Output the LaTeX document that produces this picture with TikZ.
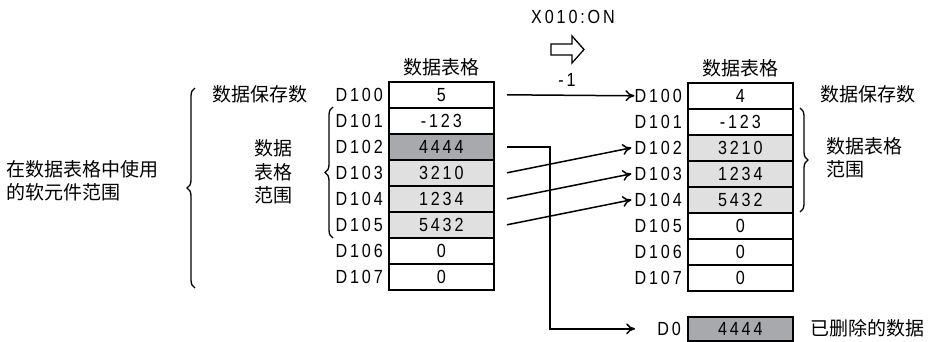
\documentclass[tikz,border=0pt]{standalone}
\usepackage{fontspec}
\setmainfont{Liberation Sans}
\newfontfamily\cjk{Noto Sans CJK SC}
\newfontfamily\numfont[FakeStretch=0.85,LetterSpace=15]{Liberation Sans}
\usetikzlibrary{arrows.meta,positioning,calc,decorations.pathreplacing}
\definecolor{GrayDark}{HTML}{A8A9AD}
\definecolor{GrayLight}{HTML}{E0E0E0}

\begin{document}
\begin{tikzpicture}[x=1pt, y=-1pt, every node/.style={font=\fontsize{19}{23}\numfont, inner sep=0pt},
  cell/.style={draw, line width=1.6pt, minimum width=105pt, minimum height=26pt, anchor=north west},
  cnote/.style={font=\fontsize{19}{23.5}\cjk, align=left},
  move/.style={-{To[length=9pt,width=11pt]}, line width=1.5pt},
  curly/.style={decorate, decoration={brace, amplitude=8pt}, line width=1.3pt}]
  \useasboundingbox (0,0) rectangle (936,341);

  % left table
  \foreach \v/\c [count=\i from 0] in {5/white,-123/white,4444/GrayDark,3210/GrayLight,1234/GrayLight,5432/GrayLight,0/white,0/white}{
    \node[cell, fill=\c] (l\i) at (388,{81+26*\i}) {\v};
    \node[anchor=east] (ln\i) at ($(l\i.west)+(-5,0)$) {D10\i};
  }
  % right table
  \foreach \v/\c [count=\i from 0] in {4/white,-123/white,3210/GrayLight,1234/GrayLight,5432/GrayLight,0/white,0/white,0/white}{
    \node[cell, fill=\c] (r\i) at (687,{82+26*\i}) {\v};
    \node[anchor=east] (rn\i) at ($(r\i.west)+(-5,0)$) {D10\i};
  }
  \node[cell, fill=GrayDark, minimum height=24pt] (d0) at (687,316) {4444};
  \node[anchor=east] (d0n) at ($(d0.west)+(-6,0)$) {D0};

  \node[cnote, above=5pt of l0] (ltitle) {数据表格};
  \node[cnote, above=5pt of r0] (rtitle) {数据表格};

  % trigger
  \node (trig) at (573,17) {X010:ON};
  \draw[line width=1.3pt] (551,44) -- (572,44) -- (572,36) -- (584,49.5) -- (572,63) -- (572,55) -- (551,55) -- cycle;
  \node (dec) at (567,80) {-1};

  % moves
  \draw[move] (507,0 |- l0) -- (rn0.west);
  \foreach \a/\b in {3/2,4/3,5/4}
    \draw[move] (507,0 |- l\a) -- ($(rn\b.west)+(-3,0)$);
  \coordinate (bend) at (550,0 |- l2);
  \draw[move] (507,0 |- l2) -- (bend) |- ($(d0n.west)+(-22,0)$);

  % left notes
  \node[cnote] (lcount) at (260,94) {数据保存数};
  \node[cnote, align=center] (lrange) at (273,172) {数据\\表格\\范围};
  \node[cnote, anchor=west] (lused) at (6,181) {在数据表格中使用\\的软元件范围};
  \draw[curly] (195,288) -- (195,88);
  \draw[curly] (333,238) -- (333,107);

  % right notes
  \node[cnote, anchor=west] (rcount) at (820,94) {数据保存数};
  \node[cnote, anchor=west] (rrange) at (826,158) {数据表格\\范围};
  \draw[curly] (800,108) -- (800,212);
  \node[cnote, anchor=west] (gone) at (810,328) {已删除的数据};
\end{tikzpicture}
\end{document}
